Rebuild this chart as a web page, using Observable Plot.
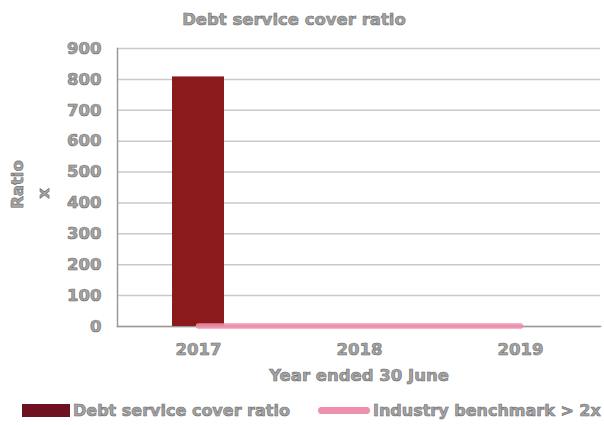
<!DOCTYPE html>
<html>
<head>
<meta charset="utf-8">
<script src="https://cdn.jsdelivr.net/npm/d3@7"></script>
<script src="https://cdn.jsdelivr.net/npm/@observablehq/plot@0.6"></script>
<style>
  html, body { margin: 0; padding: 0; background: #fff; }
  body { width: 604px; height: 425px; position: relative; overflow: hidden;
         font-family: "DejaVu Sans", sans-serif; font-weight: bold; }
  .txt { color: #a5a5a5; -webkit-text-stroke: 0.6px #6c6c6c; white-space: nowrap; }
  #title { position: absolute; left: 0; top: 0; width: 588px; height: 40px; line-height: 40px;
           text-align: center; font-size: 16.5px; }
  #chart { position: absolute; left: 0; top: 30px; }
  #chart svg text { fill: #a5a5a5; stroke: #6c6c6c; stroke-width: 0.6px; font-weight: bold; }
  #legend { position: absolute; left: 0; top: 395px; width: 604px; height: 30px; font-size: 16px; }
  .item { position: absolute; top: 0; display: flex; align-items: center; height: 30px; white-space: nowrap; }
  .sw { display: inline-block; margin-right: 3px; flex: none; }
</style>
</head>
<body>
<div id="title" class="txt"></div>
<div id="chart"></div>
<div id="legend"></div>
<script>
const titleText = "Debt service cover ratio";
const years = ["2017", "2018", "2019"];
const dscr = [808, 0, 0];
const benchmark = [2, 2, 2];
const yTicks = [0, 100, 200, 300, 400, 500, 600, 700, 800, 900];
const seriesNames = ["Debt service cover ratio", "Industry benchmark > 2x"];
const seriesColors = ["#8a1a1c", "#ee8fab"];
const yLabelLines = ["Ratio", "x"];
const xLabel = "Year ended 30 June";

const data = years.map((y, i) => ({year: y, dscr: dscr[i], bench: benchmark[i]}));

document.getElementById("title").textContent = titleText;

const chart = Plot.plot({
  width: 604,
  height: 355,
  marginTop: 18,
  marginLeft: 117,
  marginRight: 4,
  marginBottom: 59,
  style: {fontFamily: "DejaVu Sans, sans-serif", fontSize: "16.5px", background: "#fff"},
  x: {domain: years, paddingInner: 0.68, paddingOuter: 0.34},
  y: {domain: [0, 900]},
  marks: [
    Plot.gridY(yTicks, {stroke: "#c9c9c9", strokeOpacity: 1, strokeWidth: 1.5}),
    Plot.frame({anchor: "left", stroke: "#9a9a9a", strokeWidth: 1.5}),
    Plot.frame({anchor: "bottom", stroke: "#9a9a9a", strokeWidth: 1.5}),
    Plot.barY(data, {x: "year", y: "dscr", fill: seriesColors[0]}),
    Plot.lineY(data, {x: "year", y: "bench", stroke: seriesColors[1], strokeWidth: 5.5, strokeOpacity: 0.9}),
    Plot.axisY({ticks: yTicks, tickSize: 0, tickPadding: 16, label: null}),
    Plot.axisX({tickSize: 0, tickPadding: 17, label: xLabel, labelAnchor: "center", labelOffset: 54}),
    Plot.text([yLabelLines[0]], {frameAnchor: "left", textAnchor: "middle", rotate: -90, dx: -100, dy: -3, text: d => d}),
    Plot.text([yLabelLines[1]], {frameAnchor: "left", textAnchor: "middle", rotate: -90, dx: -74, dy: 6, text: d => d})
  ]
});
document.getElementById("chart").appendChild(chart);

const legend = document.getElementById("legend");
const lefts = [22, 318];
seriesNames.forEach((name, i) => {
  const item = document.createElement("div");
  item.className = "item";
  item.style.left = lefts[i] + "px";
  const sw = document.createElement("span");
  sw.className = "sw";
  if (i === 0) {
    sw.style.width = "48px"; sw.style.height = "13px"; sw.style.background = "#6e1020";
  } else {
    sw.style.width = "52px"; sw.style.height = "7px"; sw.style.background = seriesColors[1];
    sw.style.borderRadius = "4px";
  }
  const t = document.createElement("span");
  t.className = "txt";
  t.textContent = name;
  item.appendChild(sw);
  item.appendChild(t);
  legend.appendChild(item);
});
</script>
</body>
</html>
